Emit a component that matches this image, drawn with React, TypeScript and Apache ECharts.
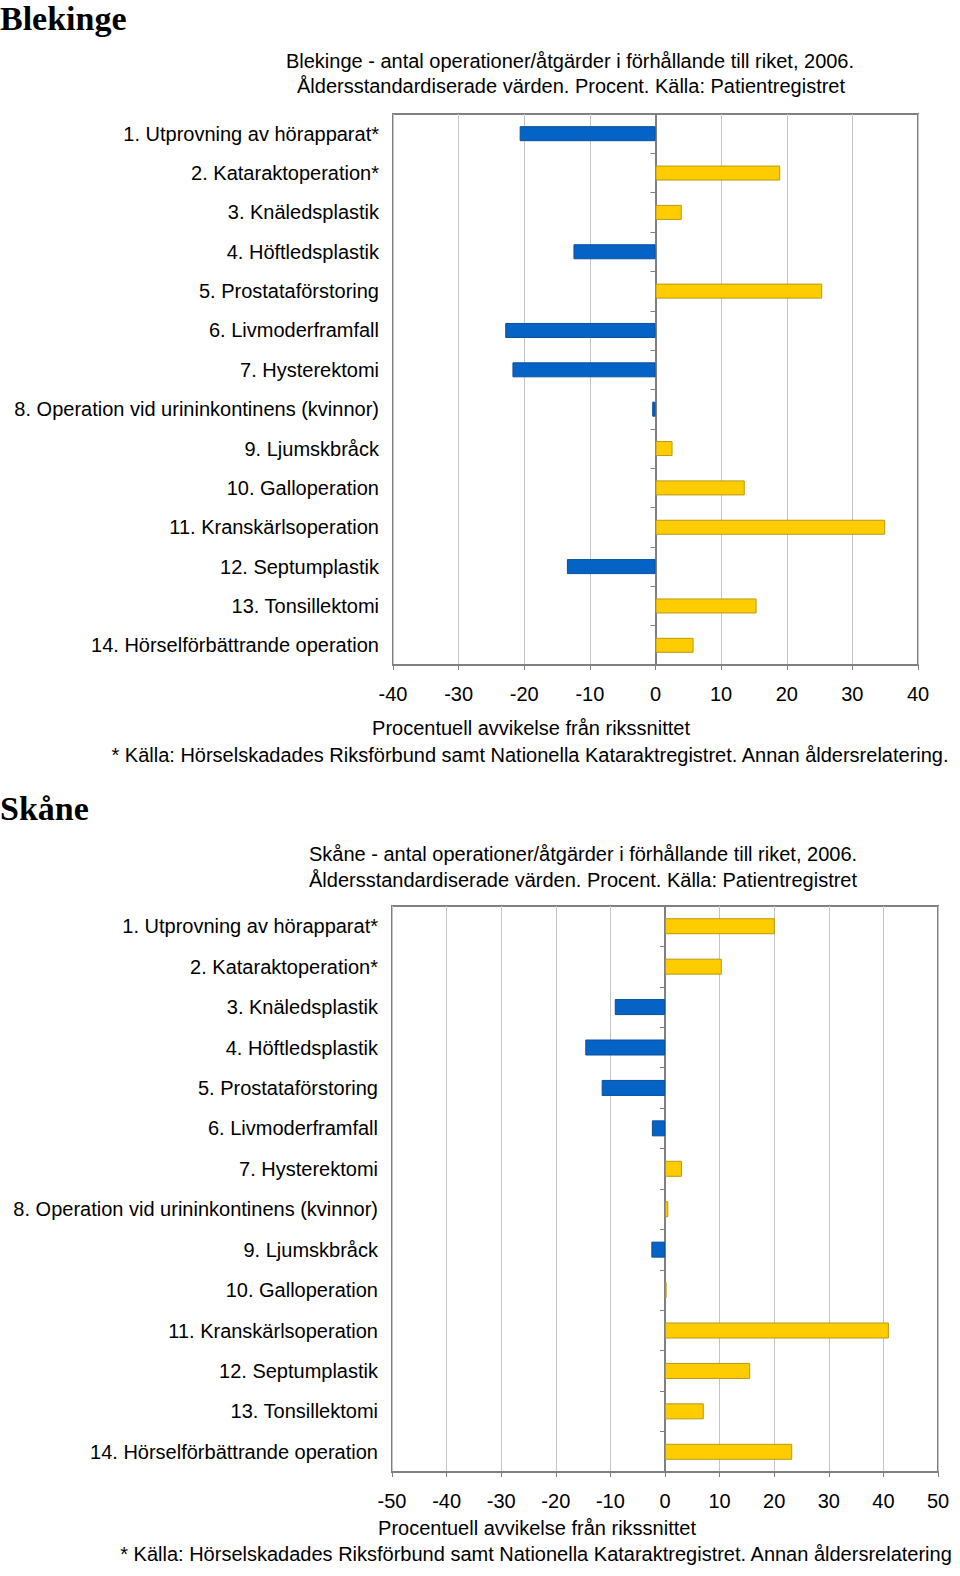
import React, { useEffect, useRef } from "react";
import * as echarts from "echarts";

const categories = [
  "1. Utprovning av hörapparat*",
  "2. Kataraktoperation*",
  "3. Knäledsplastik",
  "4. Höftledsplastik",
  "5. Prostataförstoring",
  "6. Livmoderframfall",
  "7. Hysterektomi",
  "8. Operation vid urininkontinens (kvinnor)",
  "9. Ljumskbråck",
  "10. Galloperation",
  "11. Kranskärlsoperation",
  "12. Septumplastik",
  "13. Tonsillektomi",
  "14. Hörselförbättrande operation",
];

const blekingeValues = [-20.7, 19.0, 4.0, -12.5, 25.4, -22.9, -21.8, -0.5, 2.6, 13.6, 35.0, -13.5, 15.4, 5.8];
const skaneValues = [20.1, 10.4, -9.2, -14.6, -11.6, -2.4, 3.1, 0.6, -2.5, 0.3, 41.0, 15.6, 7.1, 23.3];

const blekingeTitle = [
  "Blekinge - antal operationer/åtgärder i förhållande till riket, 2006.",
  "Åldersstandardiserade värden. Procent. Källa: Patientregistret",
];
const skaneTitle = [
  "Skåne - antal operationer/åtgärder i förhållande till riket, 2006.",
  "Åldersstandardiserade värden. Procent. Källa: Patientregistret",
];
const axisName = "Procentuell avvikelse från rikssnittet";
const footnoteTop = "* Källa: Hörselskadades Riksförbund samt Nationella Kataraktregistret. Annan åldersrelatering.";
const footnoteBottom = "* Källa: Hörselskadades Riksförbund samt Nationella Kataraktregistret. Annan åldersrelatering";

const FONT = "'Liberation Sans', Arial, sans-serif";
const SERIF = "'Liberation Serif', 'Times New Roman', serif";
const FS = 20;
const BLUE = "#0563c6";
const BLUE_BORDER = "#0a4f9a";
const YELLOW = "#ffcc00";
const YELLOW_BORDER = "#b89a10";

function barData(values: number[]) {
  return values.map((v) => ({
    value: v,
    itemStyle: {
      color: v < 0 ? BLUE : YELLOW,
      borderColor: v < 0 ? BLUE_BORDER : YELLOW_BORDER,
      borderWidth: 1,
    },
  }));
}

export default function App() {
  const ref = useRef<HTMLDivElement>(null);
  useEffect(() => {
    if (!ref.current) return;
    const chart = echarts.init(ref.current, null, { renderer: "svg" });
    const grids = [
      { left: 393, width: 525, top: 114, height: 551 },
      { left: 392, width: 546, top: 906, height: 566 },
    ];
    const mkX = (gi: number, lim: number, margin: number) => ({
      type: "value" as const,
      gridIndex: gi,
      min: -lim,
      max: lim,
      interval: 10,
      axisLine: { show: true, lineStyle: { color: "#808080", width: 2 } },
      axisTick: { show: true, length: 5, lineStyle: { color: "#808080" } },
      axisLabel: { fontFamily: FONT, fontSize: FS, color: "#000", margin },
      splitLine: { show: true, lineStyle: { color: "#c4c4c4", width: 1 } },
    });
    const mkY = (gi: number) => ({
      type: "category" as const,
      gridIndex: gi,
      data: categories,
      inverse: true,
      axisLine: { show: true, lineStyle: { color: "#808080", width: 2 } },
      axisTick: { show: true, length: 5, lineStyle: { color: "#808080" } },
      axisLabel: { fontFamily: FONT, fontSize: FS, color: "#000", margin: 14 },
      splitLine: { show: false },
    });
    const textEl = (text: string, x: number, y: number, opts: any = {}) => ({
      type: "text",
      x,
      y,
      style: {
        text,
        fontFamily: FONT,
        fontSize: FS,
        fill: "#000",
        textAlign: "center",
        textVerticalAlign: "middle",
        ...opts,
      },
    });
    chart.setOption({
      animation: false,
      backgroundColor: "#fff",
      grid: grids.map((g) => ({
        ...g,
        show: true,
        borderColor: "#808080",
        borderWidth: 2,
        containLabel: false,
      })),
      xAxis: [mkX(0, 40, 19), mkX(1, 50, 19)],
      yAxis: [mkY(0), mkY(1)],
      series: [
        {
          type: "bar",
          xAxisIndex: 0,
          yAxisIndex: 0,
          barWidth: 15,
          data: barData(blekingeValues),
        },
        {
          type: "bar",
          xAxisIndex: 1,
          yAxisIndex: 1,
          barWidth: 16,
          data: barData(skaneValues),
        },
      ],
      graphic: [
        textEl("Blekinge", 0, 18, { fontFamily: SERIF, fontSize: 34, fontWeight: "bold", textAlign: "left" }),
        textEl(blekingeTitle[0], 570, 61),
        textEl(blekingeTitle[1], 571, 86),
        textEl(axisName, 531, 728),
        textEl(footnoteTop, 530, 755),
        textEl("Skåne", 0, 808, { fontFamily: SERIF, fontSize: 34, fontWeight: "bold", textAlign: "left" }),
        textEl(skaneTitle[0], 583, 854),
        textEl(skaneTitle[1], 583, 880),
        textEl(axisName, 537, 1528),
        textEl(footnoteBottom, 536, 1554),
      ],
    });
    return () => chart.dispose();
  }, []);
  return (
    <div
      ref={ref}
      style={{ position: "absolute", left: 0, top: 0, width: 960, height: 1576, background: "#fff" }}
    />
  );
}
